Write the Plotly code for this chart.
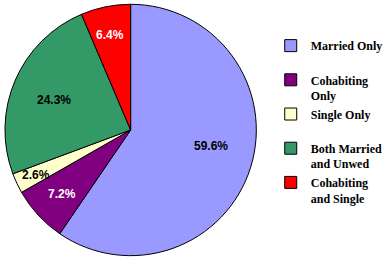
import math
import plotly.graph_objects as go

labels = ["Married Only", "Cohabiting<br>Only", "Single Only", "Both Married<br>and Unwed", "Cohabiting<br>and Single"]
values = [59.6, 7.2, 2.6, 24.3, 6.4]
text_labels = ["59.6%", "7.2%", "2.6%", "24.3%", "6.4%"]
colors = ["#9999FF", "#800080", "#FFFFCC", "#339966", "#FF0000"]
text_colors = ["black", "white", "black", "black", "white"]

# styling: radial placement (fraction of radius) and angular nudge (deg) of each label
label_radius = [0.66, 0.75, 0.84, 0.66, 0.77]
label_nudge = [-6, 0, 0, -2, -1]

W, H = 388, 261
dom_x = [0.0129, 0.6675]
dom_y = [0.019, 0.985]

legend_names = [l if "<br>" in l else l + "<br> " for l in labels]

fig = go.Figure(go.Pie(
    labels=legend_names, values=values,
    textinfo="none",
    sort=False, direction="clockwise", rotation=0,
    marker=dict(colors=colors, line=dict(color="black", width=1)),
    domain=dict(x=dom_x, y=dom_y),
    hoverinfo="percent",
))

# percentage labels placed at each slice's mid-angle
cx = (dom_x[0] + dom_x[1]) / 2 * W
cy = (dom_y[0] + dom_y[1]) / 2 * H
R = min((dom_x[1] - dom_x[0]) * W, (dom_y[1] - dom_y[0]) * H) / 2
total = sum(values)
cum = 0
for v, t, c, f, n in zip(values, text_labels, text_colors, label_radius, label_nudge):
    mid = (cum + v / 2) / total * 2 * math.pi + math.radians(n)
    cum += v
    px = cx + f * R * math.sin(mid)
    py = cy + f * R * math.cos(mid)
    fig.add_annotation(x=px / W, y=py / H, xref="paper", yref="paper",
                       xanchor="center", yanchor="middle",
                       text=f"<b>{t}</b>", showarrow=False,
                       font=dict(family="Arial, Liberation Sans", size=12, color=c))

fig.update_layout(
    width=W, height=H, margin=dict(l=0, r=0, t=0, b=0),
    paper_bgcolor="white",
    legend=dict(x=0.705, y=0.88, xanchor="left", yanchor="top", valign="top",
                font=dict(family="Liberation Serif", size=12, color="black", weight="bold"),
                itemwidth=30, tracegroupgap=0),
)
fig.write_html("out.html")
